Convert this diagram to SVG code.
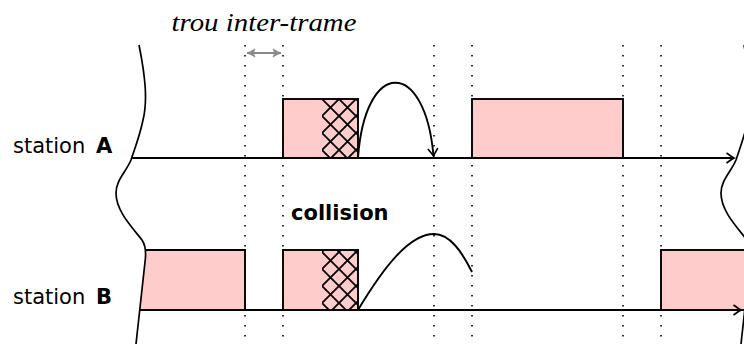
<svg xmlns="http://www.w3.org/2000/svg" width="744" height="344" viewBox="0 0 744 344">
  <style>
    .lbl { font-family: "DejaVu Sans", "Liberation Sans", sans-serif; font-size: 21px; fill: #000; }
    .bold { font-weight: bold; }
    .it { font-family: "Liberation Serif", "DejaVu Serif", serif; font-style: italic; font-size: 25px; fill: #000; }
    .dot { stroke: #000; stroke-width: 1.6; stroke-dasharray: 1.6 8.4; fill: none; }
    .frame { fill: #ffcccc; stroke: #000; stroke-width: 1.9; }
    .axis { stroke: #000; stroke-width: 2; fill: none; }
    .curve { stroke: #000; stroke-width: 1.9; fill: none; }
    .wave { stroke: #000; stroke-width: 1.7; fill: none; }
  </style>
  <defs>
    <marker id="to" viewBox="-9 -6 11 12" markerWidth="11" markerHeight="12" refX="0" refY="0" orient="auto" markerUnits="userSpaceOnUse">
      <path d="M-7.5,-5 Q-2,-1 0,0 Q-2,1 -7.5,5" fill="none" stroke="#000" stroke-width="1.7"/>
    </marker>
    <marker id="gto" viewBox="-9 -6 11 12" markerWidth="11" markerHeight="12" refX="0" refY="0" orient="auto-start-reverse" markerUnits="userSpaceOnUse">
      <path d="M-8,-4 Q-3,-1 0,0 Q-3,1 -8,4 Q-5,0 -8,-4 Z" fill="#888" stroke="#888" stroke-width="0.8"/>
    </marker>
    <pattern id="xhatch" patternUnits="userSpaceOnUse" x="322" y="99" width="17" height="17">
      <path d="M0,0 L17,17 M17,0 L0,17" stroke="#000" stroke-width="1.8"/>
    </pattern>
    <path id="wavepath" d="M139,45 C145,75 148,100 143,120 C140,135 135,148 131,160 C126,172 116,180 116,193 C116,210 130,225 142,240 C146,246 146,255 145,262 L136,344"/>
  </defs>

  <!-- dotted time guides -->
  <g id="guides">
    <line class="dot" x1="245" y1="45" x2="245" y2="344"/>
    <line class="dot" x1="283" y1="45" x2="283" y2="344"/>
    <line class="dot" x1="434" y1="45" x2="434" y2="344"/>
    <line class="dot" x1="472" y1="45" x2="472" y2="344"/>
    <line class="dot" x1="623" y1="45" x2="623" y2="344"/>
    <line class="dot" x1="661" y1="45" x2="661" y2="344"/>
  </g>

  <g id="gap-label">
    <text class="it" x="264" y="31" text-anchor="middle" textLength="185" lengthAdjust="spacingAndGlyphs">trou inter-trame</text>
    <line x1="247" y1="53" x2="281" y2="53" stroke="#888" stroke-width="1.8" marker-start="url(#gto)" marker-end="url(#gto)"/>
  </g>

  <!-- station A frames -->
  <g id="frameA1">
    <rect x="283" y="99" width="75" height="59" fill="#ffcccc"/>
    <rect x="322" y="99" width="36" height="59" fill="url(#xhatch)"/>
    <rect class="frame" x="283" y="99" width="75" height="59" style="fill:none"/>
  </g>
  <g id="frameA2">
    <rect class="frame" x="472" y="99" width="151" height="59"/>
  </g>

  <!-- station B frames -->
  <g id="frameB1">
    <path class="frame" d="M145,250 L245,250 L245,310 L140,310 C142,290 146,262 145,250 Z" style="stroke:none"/>
    <path d="M145,250 L245,250 L245,310" fill="none" stroke="#000" stroke-width="1.9"/>
  </g>
  <g id="frameB2">
    <rect x="283" y="250" width="75" height="60" fill="#ffcccc"/>
    <rect x="322" y="250" width="36" height="60" fill="url(#xhatch)"/>
    <rect class="frame" x="283" y="250" width="75" height="60" style="fill:none"/>
  </g>
  <g id="frameB3">
    <rect class="frame" x="661" y="250" width="100" height="60"/>
  </g>

  <!-- connectors: time axes and propagation curves -->
  <g id="connectors">
    <line class="axis" x1="132" y1="158" x2="734" y2="158" marker-end="url(#to)"/>
    <line class="axis" x1="140" y1="310" x2="741" y2="310" marker-end="url(#to)"/>
    <path class="curve" d="M358,158 C365,58 425,58 433.5,156" marker-end="url(#to)"/>
    <path class="curve" d="M358,310 C385,265 410,234 434,234 C450,234 462,252 472,272"/>
  </g>

  <!-- break marks -->
  <g id="breaks">
    <use href="#wavepath" class="wave"/>
    <use href="#wavepath" class="wave" transform="translate(605,0)"/>
  </g>

  <g id="labels">
    <text class="lbl" x="13" y="153">station <tspan class="bold" x="96">A</tspan></text>
    <text class="lbl" x="13" y="304">station <tspan class="bold" x="96">B</tspan></text>
    <text class="lbl bold" x="291" y="220">collision</text>
  </g>
</svg>
